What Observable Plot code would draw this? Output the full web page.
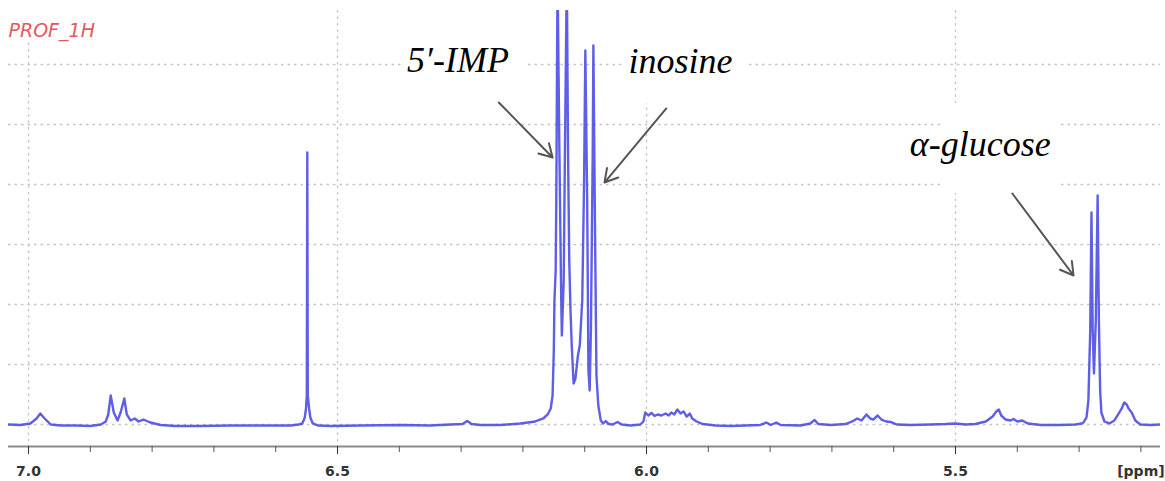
<!DOCTYPE html>
<html>
<head>
<meta charset="utf-8">
<script src="https://cdn.jsdelivr.net/npm/d3@7"></script>
<script src="https://cdn.jsdelivr.net/npm/@observablehq/plot@0.6"></script>
<style>
  html, body { margin: 0; padding: 0; background: #fff; }
  #chart { width: 1165px; height: 481px; overflow: hidden; }
</style>
</head>
<body>
<div id="chart"></div>
<script>
// ---- data (chemical shift in ppm, intensity in grid units) ----
const spectrum = [
  [7.032, 0.000], [7.013, -0.008], [6.997, 0.017], [6.987, 0.100], [6.981, 0.183], [6.974, 0.100],
  [6.964, 0.000], [6.948, -0.017], [6.924, -0.017], [6.900, -0.025], [6.883, 0.000], [6.875, 0.050],
  [6.871, 0.167], [6.867, 0.483], [6.862, 0.200], [6.856, 0.067], [6.851, 0.200], [6.845, 0.433],
  [6.841, 0.167], [6.835, 0.067], [6.828, 0.100], [6.822, 0.050], [6.814, 0.083], [6.803, 0.033],
  [6.786, -0.008], [6.762, -0.025], [6.722, -0.025], [6.673, -0.017], [6.625, -0.017], [6.576, -0.017],
  [6.563, 0.000], [6.557, 0.017], [6.553, 0.117], [6.551, 0.267], [6.5497, 0.483], [6.5489, 4.533],
  [6.5481, 0.483], [6.546, 0.267], [6.544, 0.117], [6.540, 0.017], [6.531, -0.017], [6.511, -0.025],
  [6.463, -0.017], [6.398, -0.008], [6.350, -0.017], [6.317, 0.000], [6.298, 0.008], [6.290, 0.058],
  [6.283, 0.008], [6.269, -0.008], [6.236, -0.008], [6.204, 0.017], [6.180, 0.050], [6.167, 0.100],
  [6.160, 0.167], [6.155, 0.267], [6.152, 0.483], [6.150, 1.233], [6.149, 2.067], [6.147, 2.567],
  [6.146, 3.733], [6.144, 7.500], [6.141, 4.567], [6.138, 2.067], [6.137, 1.483], [6.134, 2.400],
  [6.132, 4.567], [6.129, 7.500], [6.127, 4.567], [6.125, 2.733], [6.123, 1.900], [6.121, 1.317],
  [6.118, 0.683], [6.115, 0.767], [6.111, 1.150], [6.108, 1.317], [6.104, 2.067], [6.101, 4.067],
  [6.099, 6.233], [6.096, 3.733], [6.094, 0.900], [6.092, 0.567], [6.090, 1.567], [6.087, 4.567],
  [6.086, 6.317], [6.083, 2.900], [6.081, 0.817], [6.078, 0.317], [6.074, 0.067], [6.070, 0.017],
  [6.066, 0.058], [6.061, 0.008], [6.055, 0.000], [6.047, 0.042], [6.040, 0.000], [6.026, -0.017],
  [6.010, 0.000], [6.005, 0.050], [6.002, 0.200], [5.997, 0.150], [5.992, 0.192], [5.987, 0.142],
  [5.982, 0.167], [5.976, 0.150], [5.969, 0.183], [5.964, 0.150], [5.960, 0.200], [5.955, 0.167],
  [5.950, 0.250], [5.945, 0.183], [5.940, 0.217], [5.935, 0.133], [5.930, 0.183], [5.926, 0.100],
  [5.919, 0.050], [5.909, 0.008], [5.888, -0.017], [5.864, -0.025], [5.840, -0.017], [5.816, -0.008],
  [5.806, 0.033], [5.799, -0.008], [5.790, 0.033], [5.783, -0.008], [5.751, -0.017], [5.735, 0.017],
  [5.728, 0.075], [5.722, 0.008], [5.702, -0.008], [5.678, 0.008], [5.667, 0.050], [5.659, 0.100],
  [5.652, 0.067], [5.644, 0.167], [5.638, 0.100], [5.633, 0.083], [5.626, 0.150], [5.620, 0.083],
  [5.612, 0.050], [5.605, 0.042], [5.595, 0.000], [5.573, -0.008], [5.540, 0.000], [5.516, 0.008],
  [5.500, 0.017], [5.484, 0.000], [5.468, 0.008], [5.451, 0.050], [5.440, 0.133], [5.434, 0.217],
  [5.430, 0.250], [5.426, 0.150], [5.419, 0.083], [5.411, 0.067], [5.406, 0.092], [5.400, 0.050],
  [5.392, 0.067], [5.383, 0.017], [5.362, -0.008], [5.330, -0.008], [5.306, 0.000], [5.296, 0.017],
  [5.293, 0.033], [5.288, 0.117], [5.285, 0.400], [5.282, 1.567], [5.280, 3.533], [5.278, 1.567],
  [5.276, 0.850], [5.273, 1.733], [5.270, 3.817], [5.268, 1.733], [5.266, 0.567], [5.264, 0.200],
  [5.259, 0.050], [5.251, 0.017], [5.243, 0.067], [5.236, 0.183], [5.231, 0.267], [5.227, 0.367],
  [5.223, 0.333], [5.220, 0.267], [5.215, 0.200], [5.209, 0.067], [5.201, 0.000], [5.184, -0.008],
  [5.168, 0.000]
];

const ppmDomain = [7.0324, 5.1683];
const intensityDomain = [-0.3667, 6.9];
const gridLevels = [0, 1, 2, 3, 4, 5, 6];
const majorTicks = [7.0, 6.5, 6.0, 5.5];
const minorTicks = [7.0, 6.9, 6.8, 6.7, 6.6, 6.5, 6.4, 6.3, 6.2, 6.1, 6.0, 5.9, 5.8, 5.7, 5.6, 5.5, 5.4, 5.3, 5.2];
const unitLabel = "[ppm]";
const unitLabelPpm = 5.2;
const spectrumTitle = "PROF_1H";

// annotations
const compoundNames = ["5\u2032-IMP", "inosine", "\u03b1-glucose"];
const labelPpm = [6.305, 5.945, 5.460];
const labelIntensity = [6.075, 6.058, 4.675];
const arrowFromPpm = [6.239, 5.968, 5.408];
const arrowFromIntensity = [5.367, 5.267, 3.850];
const arrowToPpm = [6.152, 6.068, 5.309];
const arrowToIntensity = [4.450, 4.033, 2.483];

// white label backgrounds (covering the grid)
const maskPpmStart = [7.0324, 6.393, 6.037, 5.524];
const maskPpmEnd = [6.883, 6.193, 5.837, 5.330];
const maskIntensityTop = [7.1, 7.1, 7.1, 5.35];
const maskIntensityBottom = [6.367, 5.40, 5.35, 3.85];

// ---- build tables ----
const points = spectrum.map(([ppm, intensity]) => ({ppm, intensity}));
const labels = compoundNames.map((name, i) => ({
  name, x: labelPpm[i], y: labelIntensity[i],
  x1: arrowFromPpm[i], y1: arrowFromIntensity[i], x2: arrowToPpm[i], y2: arrowToIntensity[i]
}));
const masks = maskPpmStart.map((d, i) => ({
  x1: d, x2: maskPpmEnd[i], y1: maskIntensityBottom[i], y2: maskIntensityTop[i]
}));

const serif = "'Liberation Serif', 'Times New Roman', serif";
const sans = "'DejaVu Sans', Verdana, sans-serif";

const chart = Plot.plot({
  width: 1165,
  height: 481,
  marginLeft: 8,
  marginRight: 5,
  marginTop: 10,
  marginBottom: 35,
  style: {background: "#fff", overflow: "visible"},
  x: {domain: ppmDomain},
  y: {domain: intensityDomain, axis: null},
  marks: [
    Plot.gridY(gridLevels, {stroke: "#c4c4c4", strokeOpacity: 1, strokeWidth: 1.3, strokeDasharray: "2.5,4"}),
    Plot.gridX(majorTicks, {stroke: "#c4c4c4", strokeOpacity: 1, strokeWidth: 1.3, strokeDasharray: "2.5,4"}),
    Plot.rect(masks, {x1: "x1", x2: "x2", y1: "y1", y2: "y2", fill: "#fff"}),
    Plot.ruleY([intensityDomain[0]], {stroke: "#8a8a8a", strokeWidth: 2.2}),
    Plot.axisX({ticks: minorTicks, tickSize: 6, tickFormat: () => "", color: "#555"}),
    Plot.axisX({ticks: majorTicks, tickSize: 8, tickPadding: 12, tickFormat: d3.format(".1f"),
      fontSize: 14, fontWeight: "bold", fontFamily: sans, color: "#333"}),
    Plot.text([unitLabel], {x: () => unitLabelPpm, text: d => d, frameAnchor: "bottom", dy: 20,
      lineAnchor: "top", fontSize: 14, fontWeight: "bold", fontFamily: sans, fill: "#333"}),
    Plot.line(points, {x: "ppm", y: "intensity", stroke: "#4848e4", strokeWidth: 2.4,
      strokeOpacity: 0.88, curve: "linear", clip: true}),
    Plot.arrow(labels, {x1: "x1", y1: "y1", x2: "x2", y2: "y2", stroke: "#555", strokeWidth: 2,
      headLength: 11, bend: 0}),
    Plot.text(labels, {x: "x", y: "y", text: "name", fontSize: 36, fontStyle: "italic",
      fontFamily: serif, fill: "#000", lineAnchor: "middle", textAnchor: "middle"}),
    Plot.text([spectrumTitle], {text: d => d, frameAnchor: "top-left", dx: 0, dy: 20,
      textAnchor: "start", lineAnchor: "middle", fontSize: 19, fontStyle: "italic",
      fontFamily: sans, fill: "#e45a5c"})
  ]
});
document.getElementById("chart").appendChild(chart);
</script>
</body>
</html>
